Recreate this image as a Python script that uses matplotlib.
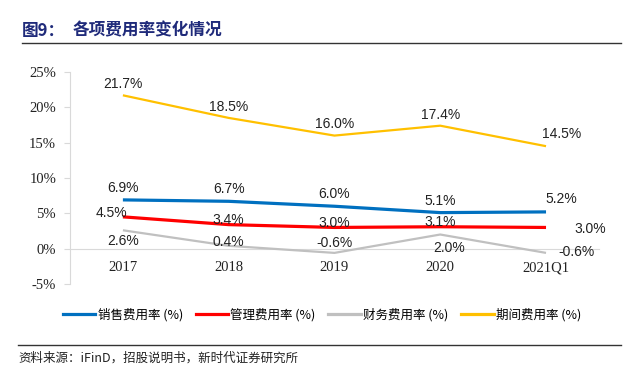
import matplotlib.pyplot as plt
from matplotlib.lines import Line2D

plt.rcParams['font.family'] = ['Noto Sans CJK SC', 'DejaVu Sans']

years = ['2017', '2018', '2019', '2020', '2021Q1']
sales = [6.9, 6.7, 6.0, 5.1, 5.2]
admin = [4.5, 3.4, 3.0, 3.1, 3.0]
finance = [2.6, 0.4, -0.6, 2.0, -0.6]
period = [21.7, 18.5, 16.0, 17.4, 14.5]
names = ['销售费用率 (%)', '管理费用率 (%)', '财务费用率 (%)', '期间费用率 (%)']
colors = ['#0070C0', '#FF0000', '#C0C0C0', '#FFC000']
widths = [2.3, 2.3, 1.6, 1.6]
yticks = [-5, 0, 5, 10, 15, 20, 25]

fig = plt.figure(figsize=(6.44, 3.72), dpi=100)
ax = fig.add_axes([0.1087, 0.2366, 0.8213, 0.5699])
x = list(range(len(years)))
series = [sales, admin, finance, period]
for vals, c, w in zip(series, colors, widths):
    ax.plot(x, vals, color=c, lw=w, solid_capstyle='butt')

# label offsets (points) per series, tuned by eye
offs = {
    0: [(0, 8.5)] * 4 + [(11, 9)],
    1: [(-8, 2.5), (0, 3), (0, 3.5), (0, 3.5), (32, -1)],
    2: [(0, -7.5), (0, 2.5), (0, 7), (6.5, -10), (22, 1)],
    3: [(0, 8)] * 4 + [(11, 9)],
}
lab_font = ['Liberation Sans', 'DejaVu Sans']
for k, vals in enumerate(series):
    for i, v in enumerate(vals):
        ax.annotate(f'{v:.1f}%', (i, v), xytext=offs[k][i], textcoords='offset points',
                    ha='center', va='center', fontsize=10, family=lab_font, color='#222222')

ax.set_xlim(-0.5, 4.5)
ax.set_ylim(-5, 25)
ax.set_yticks(yticks)
ax.set_yticklabels([f'{t}%' for t in yticks])
ax.set_xticks(x)
ax.set_xticklabels(years)
for s in ['top', 'right']:
    ax.spines[s].set_visible(False)
ax.spines['left'].set_color('#D9D9D9')
ax.spines['bottom'].set_position(('data', 0))
ax.spines['bottom'].set_color('#D9D9D9')
ax.spines['bottom'].set_zorder(0)
ax.tick_params(axis='y', length=4, color='#D9D9D9', pad=6)
ax.tick_params(axis='x', length=0, pad=9)
for lbl in ax.get_xticklabels() + ax.get_yticklabels():
    lbl.set_fontfamily(['Liberation Serif'])
    lbl.set_fontsize(10.5)
    lbl.set_color('#222222')

handles = [Line2D([], [], color=c, lw=2.3) for c in colors]
fig.legend(handles, names, loc='center', bbox_to_anchor=(0.5, 0.153), ncol=4, frameon=False,
           fontsize=9, handlelength=2.6, handletextpad=0.2, columnspacing=1.0)

fig.text(0.034, 0.918, '图9：', fontsize=12, weight='bold', color='#1F2A7A', va='center')
fig.text(0.112, 0.918, '各项费用率变化情况', fontsize=12, weight='bold', color='#1F2A7A', va='center')
fig.add_artist(Line2D([0.034, 0.965], [0.885, 0.885], color='#333333', lw=1))
fig.add_artist(Line2D([0.028, 0.965], [0.073, 0.073], color='#333333', lw=1))
fig.text(0.028, 0.037, '资料来源：iFinD，招股说明书，新时代证券研究所', fontsize=9, va='center', color='#222222')

fig.savefig('out.png', dpi=100)
